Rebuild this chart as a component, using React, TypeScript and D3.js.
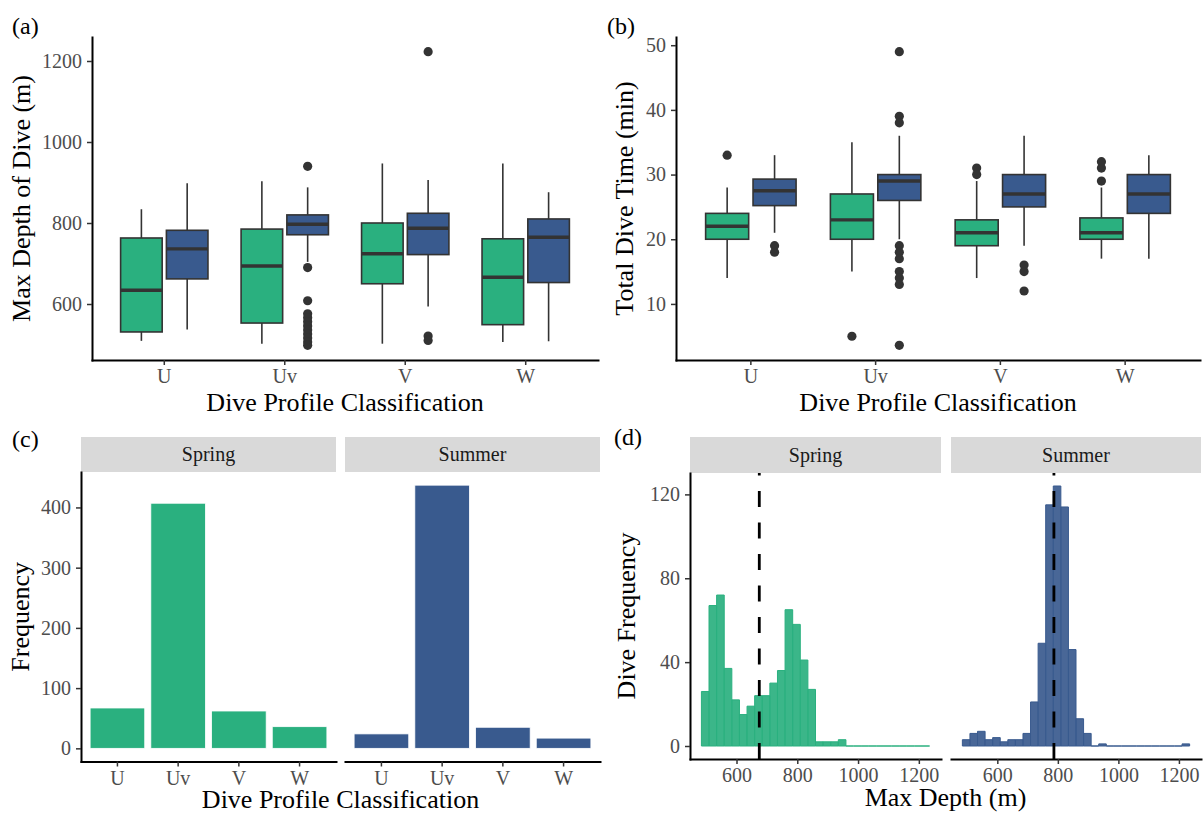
import { useEffect, useRef } from "react";
import * as d3 from "d3";

const classes = ["U", "Uv", "V", "W"];
const seasons = ["Spring", "Summer"];
const seasonColors = ["#2AB07F", "#395A8E"];

// (a) max depth boxplots, rows: [lower whisker, q1, median, q3, upper whisker]
const depthSpring = [
  [509, 531, 634, 763, 834],
  [502, 553, 694, 785, 903],
  [502, 650, 724, 800, 947],
  [506, 549, 666, 761, 947],
];
const depthSummer = [
  [537, 662, 736, 782, 898],
  [704, 771, 797, 820, 888],
  [594, 722, 787, 824, 906],
  [508, 653, 765, 810, 876],
];
const depthOutSpring: number[][] = [[], [], [], []];
const depthOutSummer = [
  [],
  [940, 690, 608, 576, 566, 556, 546, 536, 526, 516, 506, 498],
  [1223, 521, 510],
  [],
];

// (b) total dive time boxplots
const timeSpring = [
  [14, 20, 22, 24, 28],
  [15, 20, 23, 27, 35],
  [14, 19, 21, 23, 29],
  [17, 20, 21, 23.3, 28],
];
const timeSummer = [
  [21, 25.2, 27.5, 29.3, 33],
  [20, 26, 29, 30, 36],
  [19, 25, 27, 30, 36],
  [17, 24, 27, 30, 33],
];
const timeOutSpring = [[33], [5], [31, 30], [32, 31, 29]];
const timeOutSummer = [[19, 18], [49, 39, 38, 19, 18, 17, 15, 14, 13, 3.6], [16, 15, 12], []];

// (c) counts per class
const countSpring = [67, 407, 62, 36];
const countSummer = [24, 437, 35, 17];

// (d) histogram of max depth, 30 bins
const binStart = 484.5;
const binWidth = 25.03;
const histSpring = [26, 67, 72, 37, 22, 15, 19, 24, 24, 30, 36, 65, 58, 41, 27, 2, 2, 2, 3, 0, 0, 0, 0, 0, 0, 0, 0, 0, 0, 0];
const histSummer = [3, 6, 7, 3, 4, 2, 3, 3, 6, 21, 49, 115, 124, 114, 46, 13, 6, 0, 1, 0, 0, 0, 0, 0, 0, 0, 0, 0, 0, 1];
const meanDepth = [675, 787];

const depthTicks = [600, 800, 1000, 1200];
const timeTicks = [10, 20, 30, 40, 50];
const countTicks = [0, 100, 200, 300, 400];
const histTicks = [0, 40, 80, 120];

const FONT = "'Liberation Serif', 'Times New Roman', serif";
const fmt = d3.format("d");

function styleAxis(g: any) {
  g.attr("font-family", FONT).attr("font-size", 20);
  g.select(".domain").attr("stroke", "#000").attr("stroke-width", 2).attr("stroke-linecap", "square");
  g.selectAll(".tick line").attr("stroke", "#333").attr("stroke-width", 1.5);
  g.selectAll(".tick text").attr("fill", "#4D4D4D");
}

function text(svg: any, x: number, y: number, s: string, size: number, opts: any = {}) {
  const t = svg.append("text")
    .attr("x", x).attr("y", y)
    .attr("font-family", FONT).attr("font-size", size)
    .attr("fill", opts.fill || "#000")
    .attr("text-anchor", opts.anchor || "middle")
    .text(s);
  if (opts.rotate) t.attr("transform", `rotate(-90,${x},${y})`);
  return t;
}

function boxPanel(svg: any, o: any) {
  const g = svg.append("g");
  const all = [o.spring, o.summer, o.outSpring, o.outSummer].flat(2);
  const [mn, mx] = d3.extent(all) as [number, number];
  const pad = (mx - mn) * 0.05;
  const y = d3.scaleLinear().domain([mn - pad, mx + pad]).range([o.y1, o.y0]);
  const x = d3.scaleBand().domain(classes).range([o.x0, o.x1]).paddingInner(0).paddingOuter(0.1);
  const step = x.step();
  const bw = 0.345 * step;
  [o.spring, o.summer].forEach((stats: number[][], s: number) => {
    const outs = s === 0 ? o.outSpring : o.outSummer;
    classes.forEach((c, i) => {
      const cx = (x(c) as number) + step / 2 + (s === 0 ? -1 : 1) * 0.19 * step;
      const [lo, q1, md, q3, hi] = stats[i];
      g.append("line").attr("x1", cx).attr("x2", cx).attr("y1", y(lo)).attr("y2", y(q1))
        .attr("stroke", "#333").attr("stroke-width", 1.6);
      g.append("line").attr("x1", cx).attr("x2", cx).attr("y1", y(q3)).attr("y2", y(hi))
        .attr("stroke", "#333").attr("stroke-width", 1.6);
      g.append("rect").attr("x", cx - bw / 2).attr("width", bw)
        .attr("y", y(q3)).attr("height", y(q1) - y(q3))
        .attr("fill", seasonColors[s]).attr("stroke", "#333").attr("stroke-width", 1.6);
      g.append("line").attr("x1", cx - bw / 2).attr("x2", cx + bw / 2).attr("y1", y(md)).attr("y2", y(md))
        .attr("stroke", "#333").attr("stroke-width", 3.4);
      outs[i].forEach((v: number) => {
        g.append("circle").attr("cx", cx).attr("cy", y(v)).attr("r", 4.6).attr("fill", "#333");
      });
    });
  });
  const ya = g.append("g").attr("transform", `translate(${o.x0},0)`)
    .call(d3.axisLeft(y).tickValues(o.yTicks).tickFormat(fmt).tickSize(5).tickPadding(5).tickSizeOuter(0));
  styleAxis(ya);
  const xa = g.append("g").attr("transform", `translate(0,${o.y1})`)
    .call(d3.axisBottom(x).tickSize(5).tickPadding(4).tickSizeOuter(0));
  styleAxis(xa);
  text(g, (o.x0 + o.x1) / 2, 411, "Dive Profile Classification", 26);
  text(g, o.titleX, (o.y0 + o.y1) / 2, o.yTitle, 26, { rotate: true });
  text(g, o.tagX, 34, o.tag, 24, { anchor: "start" });
}

function strip(g: any, fx0: number, fx1: number, sy0: number, sy1: number, label: string) {
  g.append("rect").attr("x", fx0).attr("y", sy0).attr("width", fx1 - fx0).attr("height", sy1 - sy0).attr("fill", "#D9D9D9");
  text(g, (fx0 + fx1) / 2, (sy0 + sy1) / 2 + 6.5, label, 20, { fill: "#1A1A1A" });
}

function barPanel(svg: any) {
  const g = svg.append("g");
  const facets = [[81, 336], [345, 600]];
  const sy0 = 437, py0 = 472, py1 = 761.5;
  const mx = d3.max([...countSpring, ...countSummer]) as number;
  const y = d3.scaleLinear().domain([-mx * 0.05, mx * 1.05]).range([py1, py0]);
  [countSpring, countSummer].forEach((counts, s) => {
    const [fx0, fx1] = facets[s];
    strip(g, fx0, fx1, sy0, py0, seasons[s]);
    const x = d3.scaleBand().domain(classes).range([fx0, fx1]).paddingInner(0).paddingOuter(0.1);
    const step = x.step();
    g.append("g").selectAll("rect").data(counts).enter().append("rect")
      .attr("x", (_d: number, i: number) => (x(classes[i]) as number) + 0.05 * step)
      .attr("width", 0.9 * step)
      .attr("y", (d: number) => y(d))
      .attr("height", (d: number) => y(0) - y(d))
      .attr("fill", seasonColors[s]).attr("stroke", "#fff").attr("stroke-width", 0.8);
    const xa = g.append("g").attr("transform", `translate(0,${py1})`)
      .call(d3.axisBottom(x).tickSize(5).tickPadding(4).tickSizeOuter(0));
    styleAxis(xa);
    if (s === 0) {
      const ya = g.append("g").attr("transform", `translate(${fx0},0)`)
        .call(d3.axisLeft(y).tickValues(countTicks).tickFormat(fmt).tickSize(5).tickPadding(5).tickSizeOuter(0));
      styleAxis(ya);
    }
  });
  text(g, (facets[0][0] + facets[1][1]) / 2, 808, "Dive Profile Classification", 26);
  text(g, 29, (py0 + py1) / 2, "Frequency", 26, { rotate: true });
  text(g, 12, 447, "(c)", 24, { anchor: "start" });
}

function histPanel(svg: any) {
  const g = svg.append("g");
  const facets = [[690, 941], [951, 1201]];
  const sy0 = 437, py0 = 473, py1 = 759;
  const nb = histSpring.length;
  const binEnd = binStart + nb * binWidth;
  const xpad = (binEnd - binStart) * 0.05;
  const mx = d3.max([...histSpring, ...histSummer]) as number;
  const y = d3.scaleLinear().domain([-mx * 0.05, mx * 1.05]).range([py1, py0]);
  [histSpring, histSummer].forEach((counts, s) => {
    const [fx0, fx1] = facets[s];
    strip(g, fx0, fx1, sy0, py0, seasons[s]);
    const x = d3.scaleLinear().domain([binStart - xpad, binEnd + xpad]).range([fx0, fx1]);
    g.append("g").selectAll("path").data(counts).enter().append("path")
      .attr("d", (d: number, i: number) => {
        const a = x(binStart + i * binWidth), b = x(binStart + (i + 1) * binWidth);
        return `M${a},${y(0)}H${b}V${y(d)}H${a}Z`;
      })
      .attr("fill", seasonColors[s]).attr("fill-opacity", 0.92)
      .attr("stroke", seasonColors[s]).attr("stroke-width", 1);
    g.append("path")
      .attr("d", `M${x(meanDepth[s])},${py1}V${py0}`)
      .attr("stroke", "#000").attr("stroke-width", 2.8).attr("stroke-dasharray", "16,15.5");
    const xa = g.append("g").attr("transform", `translate(0,${py1})`)
      .call(d3.axisBottom(x).tickValues(depthTicks).tickFormat(fmt).tickSize(5).tickPadding(4).tickSizeOuter(0));
    styleAxis(xa);
    if (s === 0) {
      const ya = g.append("g").attr("transform", `translate(${fx0},0)`)
        .call(d3.axisLeft(y).tickValues(histTicks).tickFormat(fmt).tickSize(5).tickPadding(5).tickSizeOuter(0));
      styleAxis(ya);
    }
  });
  text(g, (facets[0][0] + facets[1][1]) / 2, 806, "Max Depth (m)", 26);
  text(g, 635, (py0 + py1) / 2, "Dive Frequency", 26, { rotate: true });
  text(g, 614, 445, "(d)", 24, { anchor: "start" });
}

export default function App() {
  const ref = useRef<SVGSVGElement>(null);
  useEffect(() => {
    const svg = d3.select(ref.current);
    svg.selectAll("*").remove();
    svg.append("rect").attr("width", 1203).attr("height", 815).attr("fill", "#fff");
    boxPanel(svg, {
      x0: 92, x1: 598, y0: 37, y1: 360,
      spring: depthSpring, summer: depthSummer,
      outSpring: depthOutSpring, outSummer: depthOutSummer,
      yTicks: depthTicks, yTitle: "Max Depth of Dive (m)", titleX: 29.5, tag: "(a)", tagX: 12,
    });
    boxPanel(svg, {
      x0: 676, x1: 1200, y0: 37, y1: 360,
      spring: timeSpring, summer: timeSummer,
      outSpring: timeOutSpring, outSummer: timeOutSummer,
      yTicks: timeTicks, yTitle: "Total Dive Time (min)", titleX: 633, tag: "(b)", tagX: 607,
    });
    barPanel(svg);
    histPanel(svg);
  }, []);
  return (
    <div style={{ position: "absolute", left: 0, top: 0 }}>
      <svg ref={ref} width={1203} height={815} style={{ display: "block" }} />
    </div>
  );
}
